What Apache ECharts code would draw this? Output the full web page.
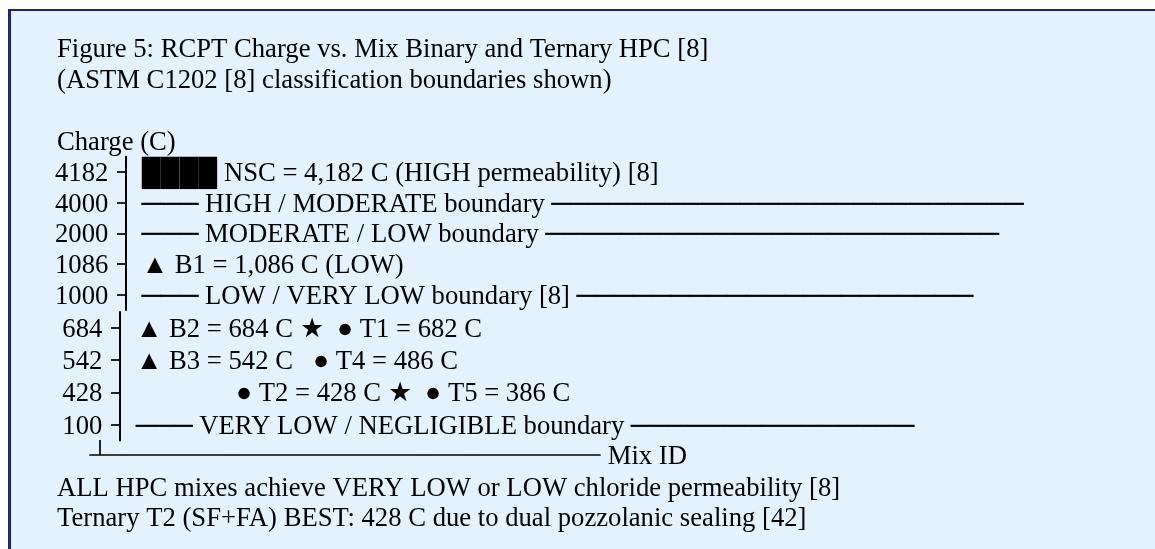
<!DOCTYPE html>
<html><head><meta charset="utf-8">
<script src="https://cdn.jsdelivr.net/npm/echarts@6/dist/echarts.min.js"></script>
<style>
html,body{margin:0;padding:0;background:#fff;width:1155px;height:549px;overflow:hidden}
#box{position:absolute;left:8px;top:9px;width:1300px;height:700px;background:#e3f2fd;border-left:3px solid #1a237e;border-top:2px solid #1a237e}
#chart{position:absolute;left:0;top:0;width:1155px;height:549px}
</style></head><body><div id="box"></div><div id="chart"></div>
<script>
const titleLines = ['Figure 5: RCPT Charge vs. Mix Binary and Ternary HPC [8]', '(ASTM C1202 [8] classification boundaries shown)'];
const yAxisName = 'Charge (C)';
const xAxisName = 'Mix ID';
const upperCharges = [4182, 4000, 2000, 1086, 1000];
const lowerCharges = [684, 542, 428, 100];
const upperRowText = [
  '████ NSC = 4,182 C (HIGH permeability) [8]',
  '{d|───} HIGH / MODERATE boundary {d|' + '─'.repeat(25) + '}',
  '{d|───} MODERATE / LOW boundary {d|' + '─'.repeat(24) + '}',
  '▲ B1 = 1,086 C (LOW)',
  '{d|───} LOW / VERY LOW boundary [8] {d|' + '─'.repeat(21) + '}'
];
const lowerRowText = [
  '▲ B2 = 684 C ★  ● T1 = 682 C',
  '▲ B3 = 542 C   ● T4 = 486 C',
  '               ● T2 = 428 C ★  ● T5 = 386 C',
  '{d|───} VERY LOW / NEGLIGIBLE boundary {d|' + '─'.repeat(15) + '}'
];
const footnotes = [
  'ALL HPC mixes achieve VERY LOW or LOW chloride permeability [8]',
  'Ternary T2 (SF+FA) BEST: 428 C due to dual pozzolanic sealing [42]'
];

const FONT = "'Liberation Serif', 'Times New Roman', serif";
const FS = 26.67;
const txt = { fontFamily: FONT, fontSize: FS, color: '#000' };
const dashStyle = Object.assign({ textBorderColor: '#000', textBorderWidth: 0.5 }, txt);

function yAxisFor(gridIndex, charges, offset) {
  return {
    type: 'category', gridIndex, inverse: true, offset,
    data: charges.map(String),
    axisLine: { show: true, onZero: false, lineStyle: { color: '#000', width: 2 } },
    axisTick: { show: true, alignWithLabel: true, length: 9, lineStyle: { color: '#000', width: 1.7 } },
    axisLabel: Object.assign({ interval: 0, margin: 17.7, verticalAlign: 'top', lineHeight: 4 }, txt),
    splitLine: { show: false }
  };
}
function rowSeries(idx, charges, texts, dist) {
  return {
    type: 'scatter', xAxisIndex: idx, yAxisIndex: idx,
    symbolSize: 1, itemStyle: { color: 'rgba(0,0,0,0)', opacity: 1 },
    data: charges.map(c => [0, String(c)]),
    label: Object.assign({
      show: true, position: 'right', distance: dist, offset: [0, 2],
      formatter: p => texts[p.dataIndex],
      rich: { d: dashStyle }
    }, txt),
    emphasis: { disabled: true },
    silent: true
  };
}

const chart = echarts.init(document.getElementById('chart'));
chart.setOption({
  animation: false,
  title: {
    text: titleLines.join('\n'), left: 57, top: 34.7, padding: 0,
    textStyle: Object.assign({ fontWeight: 'normal', lineHeight: 30.7 }, txt)
  },
  grid: [
    { left: 90, right: 555, top: 156.7, height: 153.3 },
    { left: 90, right: 555, top: 311.9, height: 128.7 }
  ],
  xAxis: [
    { type: 'value', gridIndex: 0, min: 0, max: 1, show: false },
    {
      type: 'value', gridIndex: 1, min: 0, max: 1, offset: 14.4,
      axisLine: { show: true, onZero: false, lineStyle: { color: '#000', width: 1.7 } },
      axisTick: { show: true, inside: true, length: 15, customValues: [0.0196], lineStyle: { color: '#000', width: 1.7 } },
      axisLabel: { show: false }, splitLine: { show: false },
      name: xAxisName, nameLocation: 'end', nameGap: 7.7,
      nameTextStyle: Object.assign({ verticalAlign: 'top', lineHeight: 4 }, txt)
    }
  ],
  yAxis: [
    yAxisFor(0, upperCharges, -36),
    yAxisFor(1, lowerCharges, -30)
  ],
  series: [
    rowSeries(0, upperCharges, upperRowText, 51.2),
    rowSeries(1, lowerCharges, lowerRowText, 45.5)
  ],
  graphic: [
    { type: 'text', left: 57, top: 127.7, style: { text: yAxisName, lineHeight: 30.67, font: FS + 'px ' + FONT, fill: '#000' } },
    { type: 'text', left: 57, top: 473.7, style: { text: footnotes.join('\n'), lineHeight: 30, font: FS + 'px ' + FONT, fill: '#000' } }
  ]
});
</script></body></html>
